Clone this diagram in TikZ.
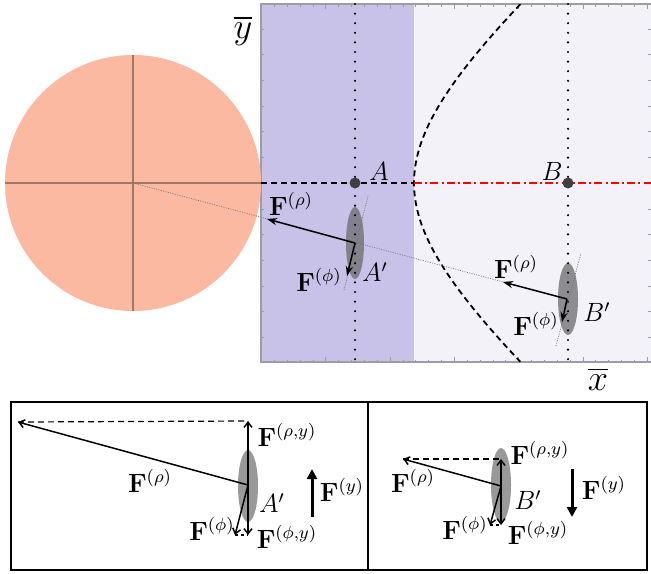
\documentclass[tikz,border=0pt]{standalone}
\usepackage{amsmath,amssymb}
\usetikzlibrary{arrows.meta,calc}
\definecolor{wallviolet}{HTML}{C9C2E8}
\definecolor{fieldpale}{HTML}{F3F2F9}
\definecolor{discsalmon}{HTML}{FCB9A1}
\definecolor{discaxis}{HTML}{A07868}
\definecolor{framegray}{HTML}{9C9CA4}
\newcommand{\Frc}[1]{\mathbf{F}^{(#1)}}

\begin{document}
\begin{tikzpicture}[x=0.5pt,y=-0.5pt,font=\fontsize{12}{14}\selectfont,
  every node/.style={scale=1.1},
  force/.style={-{Stealth[length=5pt,width=3.6pt]},line width=0.75pt},
  comp/.style={-{Straight Barb[length=2.6pt,width=4pt]},line width=0.75pt},
  netforce/.style={-{Triangle[length=5pt,width=5pt]},line width=1.5pt},
  guide/.style={black!55,line width=0.35pt,dash pattern=on 0.5pt off 0.7pt},
  gridline/.style={line width=1.2pt,line cap=round,dash pattern=on 0pt off 4.8pt},
  blob/.style={fill=black!58,opacity=0.75},
  tick/.style={framegray,line width=0.4pt}]
\path[use as bounding box] (0,0) rectangle (651,573);

% Phase plane: wall strip on the left, open field on the right.
\fill[wallviolet] (261,4) rectangle (414,362);
\fill[fieldpale] (414,4) rectangle (651,362);
\draw[framegray,line width=0.6pt] (651,4) -- (261,4) -- (261,362) -- (651,362);
\foreach \i in {0,...,30} {
  \draw[tick] ({261.5+12.86*\i},4) -- ++(0,2.5);
  \draw[tick] ({261.5+12.86*\i},362) -- ++(0,-2.5);
}
\foreach \i in {0,...,6} {
  \draw[tick] ({261.5+64.3*\i},4) -- ++(0,5);
  \draw[tick] ({261.5+64.3*\i},362) -- ++(0,-5);
}
\foreach \i in {0,...,12} {
  \draw[tick] (261,{29+25.7*\i}) -- ++(3,0);
  \draw[tick] (651,{29+25.7*\i}) -- ++(-3,0);
}
\node[font=\fontsize{14.4}{17}\selectfont,scale=1.15] (ybar) at (243,31) {$\overline{y}$};
\node[font=\fontsize{14.4}{17}\selectfont,scale=1.15] (xbar) at (598,379) {$\overline{x}$};

% Separatrix, clipped to the frame.
\begin{scope}
\clip (261,4) rectangle (651,362);
\draw[line width=0.9pt,dash pattern=on 3pt off 2pt]
  plot[domain=-1.13:1.13,samples=60,smooth]
  ({414+150*(cosh(\x)-1)},{183+129*sinh(\x)});
\end{scope}

% Reference disc with its axes.
\fill[discsalmon] (133,183) circle[radius=128];
\draw[discaxis,line width=0.6pt] (5,183) -- (261,183) (133,55) -- (133,311);

% Horizontal line through A and B.
\draw[line width=0.9pt,dash pattern=on 3pt off 2pt] (261,183) -- (414,183);
\draw[red,line width=0.8pt,dash pattern=on 4pt off 1.6pt on 1pt off 1.6pt]
  (414,183) -- (651,183);

% Particles A' and B' and the radial guide through them.
\coordinate (O) at (133,183);
\coordinate (Ao) at (355,243);
\coordinate (Bo) at (567,299);
\fill[blob] (355,243) ellipse[x radius=9,y radius=36];
\fill[blob] (568,299) ellipse[x radius=10,y radius=36];
\draw[gridline] (355,4) -- (355,362);
\draw[gridline] (568,4) -- (568,362);
\draw[guide] (O) -- (Bo);
\draw[guide] (344,290) -- (368,196);
\draw[guide] (556,346) -- (581,253);
\node[circle,fill=black!75,inner sep=0pt,minimum size=5pt] (A) at (355,183) {};
\node[circle,fill=black!75,inner sep=0pt,minimum size=5pt] (B) at (568,183) {};
\node (lA) at (379,171) {$A$};
\node (lB) at (552,171) {$B$};

\coordinate (Arho) at (267,219);
\coordinate (Aphi) at (347,276);
\draw[force] (Ao) -- (Arho);
\draw[force] (Ao) -- (Aphi);
\node (tArho) at (291,204) {$\Frc{\rho}$};
\node (tAphi) at (319,280) {$\Frc{\phi}$};
\node (tAp) at (375,272) {$A'$};

\coordinate (Brho) at (503,282);
\coordinate (Bphi) at (562,322);
\draw[force] (Bo) -- (Brho);
\draw[force] (Bo) -- (Bphi);
\node (tBrho) at (516,267) {$\Frc{\rho}$};
\node (tBphi) at (536,324) {$\Frc{\phi}$};
\node (tBp) at (597,312) {$B'$};

% Lower panels: decomposition of the forces on A' and B'.
\draw[line width=0.8pt] (11,402) rectangle (647,570);
\draw[line width=0.8pt] (368,402) -- (368,570);

% Left panel, particle A'.
\fill[black!40] (248,486) ellipse[x radius=10,y radius=36];
\coordinate (Lo) at (248,485);
\coordinate (Lrho) at (18,422);
\coordinate (Lrhoy) at (248,421);
\coordinate (Lphi) at (235,535);
\coordinate (Lphiy) at (248,535);
\draw[line width=0.6pt,dash pattern=on 3pt off 2pt] (Lrho) -- (Lrhoy);
\draw[line width=0.6pt,dash pattern=on 1.5pt off 1.5pt] (Lphi) -- (Lphiy);
\draw[comp] (Lo) -- (Lrho);
\draw[comp] (Lo) -- (Lrhoy);
\draw[comp] (Lo) -- (Lphi);
\draw[comp] (Lo) -- (Lphiy);
\coordinate (Ly0) at (312,517);
\coordinate (Ly1) at (312,469);
\draw[netforce] (Ly0) -- (Ly1);
\node (tLrho) at (150,481) {$\Frc{\rho}$};
\node (tLrhoy) at (287,435) {$\Frc{\rho,y}$};
\node (tLphi) at (212,529) {$\Frc{\phi}$};
\node (tLphiy) at (287,537) {$\Frc{\phi,y}$};
\node (tLp) at (272,503) {$A'$};
\node (tLy) at (342,490) {$\Frc{y}$};

% Right panel, particle B'.
\fill[black!40] (501,485) ellipse[x radius=10,y radius=37];
\coordinate (Ro) at (501,486);
\coordinate (Rrho) at (403,459);
\coordinate (Rrhoy) at (501,459);
\coordinate (Rphi) at (490,525);
\coordinate (Rphiy) at (501,525);
\draw[line width=0.6pt,dash pattern=on 3pt off 2pt] (Rrho) -- (Rrhoy);
\draw[line width=0.6pt,dash pattern=on 1.5pt off 1.5pt] (Rphi) -- (Rphiy);
\draw[comp] (Ro) -- (Rrho);
\draw[comp] (Ro) -- (Rrhoy);
\draw[comp] (Ro) -- (Rphi);
\draw[comp] (Ro) -- (Rphiy);
\coordinate (Ry0) at (572,469);
\coordinate (Ry1) at (572,517);
\draw[netforce] (Ry0) -- (Ry1);
\node (tRrho) at (413,481) {$\Frc{\rho}$};
\node (tRrhoy) at (540,453) {$\Frc{\rho,y}$};
\node (tRphi) at (465,528) {$\Frc{\phi}$};
\node (tRphiy) at (538,533) {$\Frc{\phi,y}$};
\node (tRp) at (528,500) {$B'$};
\node (tRy) at (604,488) {$\Frc{y}$};
\end{tikzpicture}
\end{document}
